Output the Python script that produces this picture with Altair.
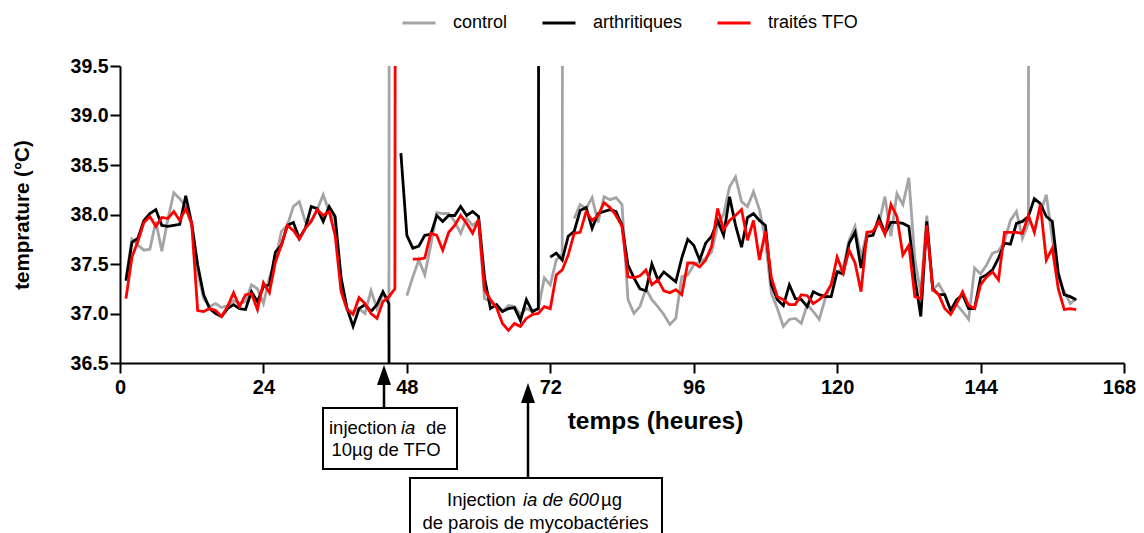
import altair as alt
import pandas as pd

heures = list(range(1, 161))

control = [
    37.35, 37.75, 37.69, 37.64, 37.65, 37.93, 37.63, 37.95, 38.22, 38.16,
    38.08, 37.89, 37.42, 37.15, 37.07, 37.10, 37.06, 37.08, 37.13, 37.10,
    37.12, 37.29, 37.25, 37.10, 37.36, 37.54, 37.83, 37.89, 38.08, 38.13,
    37.93, 37.94, 38.05, 38.20, 38.03, 37.94, 37.25, 37.04, 37.02, 37.05,
    37.00, 37.23, 37.05, 37.19, 37.15, 100.0, None, 37.18, 37.37, 37.54,
    37.39, 37.69, 38.02, 38.01, 38.01, 37.93, 37.81, 37.96, 37.89, 37.94,
    37.15, 37.12, 37.07, 37.02, 37.08, 37.07, 36.99, 37.05, 37.02, 37.05,
    37.36, 37.29, 37.54, 37.60, 100.0, 37.96, 38.10, 38.06, 38.17, 37.92,
    38.18, 38.15, 38.17, 38.10, 37.14, 37.00, 37.07, 37.25, 37.14, 37.07,
    36.99, 36.89, 36.95, 37.37, 37.39, 37.49, 37.52, 37.56, 37.62, 37.89,
    38.00, 38.28, 38.38, 38.13, 38.08, 38.23, 38.05, 37.74, 37.20, 37.05,
    36.87, 36.94, 36.95, 36.90, 37.09, 37.02, 36.94, 37.15, 37.30, 37.42,
    37.46, 37.74, 37.88, 37.57, 37.82, 37.82, 37.91, 38.18, 37.78, 38.21,
    38.10, 38.37, 37.55, 37.20, 37.99, 37.24, 37.30, 37.19, 37.04, 37.09,
    37.02, 36.94, 37.46, 37.40, 37.49, 37.61, 37.63, 37.73, 37.94, 38.03,
    37.76, 37.91, 100.0, 38.01, 38.20, 37.76, 37.36, 37.22, 37.10, 37.15,
]

arthritiques = [
    37.33, 37.72, 37.76, 37.94, 38.01, 38.05, 37.89, 37.88, 37.89, 37.90,
    38.19, 37.91, 37.49, 37.19, 37.05, 37.00, 36.97, 37.05, 37.09, 37.05,
    37.04, 37.22, 37.12, 37.27, 37.29, 37.62, 37.69, 37.89, 37.92, 37.76,
    37.86, 38.08, 38.06, 37.93, 38.08, 37.98, 37.36, 37.05, 36.87, 37.05,
    37.09, 37.02, 37.09, 37.22, 37.10, 0.0, 38.62, 37.79, 37.66, 37.68,
    37.79, 37.80, 37.99, 37.93, 37.99, 37.99, 38.08, 37.99, 38.03, 37.98,
    37.36, 37.05, 37.09, 37.02, 37.05, 37.06, 36.93, 37.14, 37.02, 37.05,
    100.0, 37.57, 37.61, 37.54, 37.78, 37.83, 38.04, 38.07, 37.86, 38.01,
    38.03, 38.05, 38.03, 37.89, 37.49, 37.36, 37.25, 37.23, 37.50, 37.34,
    37.42, 37.37, 37.32, 37.56, 37.75, 37.69, 37.54, 37.71, 37.78, 37.94,
    37.79, 38.18, 37.89, 37.67, 37.97, 38.01, 37.94, 37.89, 37.29, 37.14,
    37.08, 37.29, 37.15, 37.14, 37.07, 37.22, 37.19, 37.17, 37.17, 37.42,
    37.40, 37.71, 37.82, 37.46, 37.78, 37.79, 37.97, 37.81, 37.92, 37.92,
    37.91, 37.88, 37.36, 36.97, 37.93, 37.25, 37.19, 37.19, 37.03, 37.14,
    37.19, 37.05, 37.05, 37.36, 37.39, 37.44, 37.56, 37.71, 37.70, 37.91,
    37.93, 37.98, 38.16, 38.11, 37.98, 37.93, 37.41, 37.19, 37.17, 37.14,
]

traites_tfo = [
    37.15, 37.57, 37.73, 37.92, 37.98, 37.88, 37.97, 37.96, 38.03, 37.94,
    38.06, 37.91, 37.03, 37.02, 37.05, 37.03, 36.97, 37.07, 37.21, 37.07,
    37.19, 37.20, 37.04, 37.31, 37.21, 37.52, 37.69, 37.89, 37.84, 37.75,
    37.86, 37.93, 38.05, 37.99, 38.03, 37.79, 37.22, 37.04, 36.99, 37.16,
    37.10, 37.00, 36.95, 37.12, 37.17, 37.25, 100.0, None, 37.55, 37.55,
    37.56, 37.81, 37.79, 37.64, 37.82, 37.89, 37.99, 37.91, 37.81, 37.95,
    37.24, 37.14, 37.06, 36.90, 36.83, 36.90, 36.87, 36.95, 36.99, 37.00,
    37.07, 37.05, 37.39, 37.44, 37.59, 37.81, 37.82, 38.03, 37.94, 37.99,
    38.12, 38.07, 37.99, 37.88, 37.37, 37.36, 37.38, 37.44, 37.29, 37.34,
    37.23, 37.21, 37.24, 37.19, 37.51, 37.51, 37.47, 37.54, 37.68, 38.06,
    37.85, 37.94, 37.99, 38.05, 37.74, 37.94, 37.54, 37.83, 37.36, 37.17,
    37.14, 37.09, 37.09, 37.19, 37.18, 37.10, 37.14, 37.19, 37.29, 37.57,
    37.41, 37.64, 37.51, 37.22, 37.82, 37.83, 37.93, 37.80, 38.10, 37.98,
    37.59, 37.69, 37.17, 37.15, 37.89, 37.24, 37.19, 37.05, 36.99, 37.10,
    37.22, 37.08, 37.05, 37.29, 37.37, 37.42, 37.34, 37.82, 37.82, 37.82,
    37.81, 37.99, 37.82, 38.10, 37.54, 37.66, 37.25, 37.04, 37.05, 37.04,
]

series_names = ["control", "arthritiques", "traités TFO"]
series_colors = ["#a4a4a7", "#000000", "#ff0000"]
# hours after which the recorded trace is interrupted (artefact spikes)
ruptures = {"control": [46, 75, 153], "arthritiques": [46, 71], "traités TFO": [47]}

x_ticks = [0, 24, 48, 72, 96, 120, 144, 168]
y_ticks = [36.5, 37.0, 37.5, 38.0, 38.5, 39.0, 39.5]

FONT = "Liberation Sans"


def table(name, values):
    rows = []
    seg = 0
    for h, v in zip(heures, values):
        if v is None:
            seg += 1
            continue
        rows.append({"heure": h, "temp": v, "serie": name, "seg": f"{name}-{seg}"})
        if h in ruptures[name]:
            seg += 1
    return pd.DataFrame(rows)


x_enc = alt.X(
    "heure:Q",
    scale=alt.Scale(domain=[0, 168], nice=False, zero=False),
    axis=alt.Axis(
        values=x_ticks, format="d", title="temps (heures)",
        labelFont=FONT, labelFontSize=20, labelFontWeight="bold", labelColor="black",
        labelFlush=False, labelOverlap=False, labelPadding=4,
        labelOffset=alt.condition("datum.value == 168", alt.value(-5), alt.value(0)),
        tickSize=10, tickWidth=2, tickColor="black",
        domainWidth=2, domainColor="black", grid=False,
        titleFont=FONT, titleFontSize=24.5, titleFontWeight="bold", titleColor="black",
        titleX=535, titleY=65, titleAlign="center", titleBaseline="alphabetic",
    ),
)
y_enc = alt.Y(
    "temp:Q",
    scale=alt.Scale(domain=[36.5, 39.5], nice=False, zero=False),
    axis=alt.Axis(
        values=y_ticks, format=".1f", title="temprature (°C)",
        labelFont=FONT, labelFontSize=19.5, labelFontWeight="bold", labelColor="black",
        labelPadding=2, labelOverlap=False,
        tickSize=10, tickWidth=2, tickColor="black",
        domainWidth=2, domainColor="black", grid=False,
        titleFont=FONT, titleFontSize=20.5, titleFontWeight="bold", titleColor="black",
        titleX=-98, titleY=148.5, titleAlign="center", titleBaseline="middle",
    ),
)
color_enc = alt.Color(
    "serie:N",
    scale=alt.Scale(domain=series_names, range=series_colors),
    title=None,
    legend=alt.Legend(
        orient="none", legendX=281, legendY=-61, direction="horizontal",
        symbolType="stroke", symbolSize=1089, symbolStrokeWidth=3,
        labelFont=FONT, labelFontSize=18, labelColor="black",
        labelOffset=16, columnPadding=28,
    ),
)


def line_layer(name, values):
    return alt.Chart(table(name, values)).mark_line(strokeWidth=2.8, clip=True).encode(
        x=x_enc, y=y_enc, color=color_enc, detail="seg:N"
    )


layers = [
    line_layer("control", control),
    line_layer("arthritiques", arthritiques),
    line_layer("traités TFO", traites_tfo),
]

one = pd.DataFrame({"k": [0]})

# annotation boxes
for x1, x2, y1, y2 in [(203, 337, 342, 403), (290, 542, 412, 490)]:
    layers.append(
        alt.Chart(one).mark_rect(fill="white", stroke="black", strokeWidth=2).encode(
            x=alt.value(x1), x2=alt.value(x2), y=alt.value(y1), y2=alt.value(y2)
        )
    )
# arrows
for ax, ytop, ybot in [(264, 319, 342), (408, 337, 412)]:
    layers.append(
        alt.Chart(one).mark_rule(color="black", strokeWidth=2.5).encode(
            x=alt.value(ax), y=alt.value(ytop), y2=alt.value(ybot)
        )
    )
    layers.append(
        alt.Chart(one).mark_point(
            shape="M0,-1L-0.7,1L0.7,1Z", filled=True, size=400, color="black", opacity=1
        ).encode(x=alt.value(ax), y=alt.value(ytop - 10))
    )

# annotation texts: (text, x, y, align, style)
textes = [
    ("injection", 209, 362, "left", "normal"),
    ("ia", 281, 362, "left", "italic"),
    ("de", 306, 362, "left", "normal"),
    ("10µg de TFO", 266, 384, "center", "normal"),
    ("Injection", 327, 434, "left", "normal"),
    ("ia de 600", 403, 434, "left", "italic"),
    ("µg", 481, 434, "left", "normal"),
    ("de parois de mycobactéries", 415.5, 457, "center", "normal"),
]
for txt, tx, ty, al, st in textes:
    layers.append(
        alt.Chart(one).mark_text(
            font=FONT, fontSize=18.5, fontStyle=st, align=al, baseline="middle", color="black"
        ).encode(x=alt.value(tx), y=alt.value(ty), text=alt.value(txt))
    )

chart = alt.layer(*layers).properties(
    width=1004,
    height=297,
    padding={"left": 112, "top": 58, "right": 12, "bottom": 170},
    autosize=alt.AutoSizeParams(type="none"),
).configure(font=FONT).configure_view(stroke=None)

chart.save("out.html", embed_options={"renderer": "svg", "actions": False})
